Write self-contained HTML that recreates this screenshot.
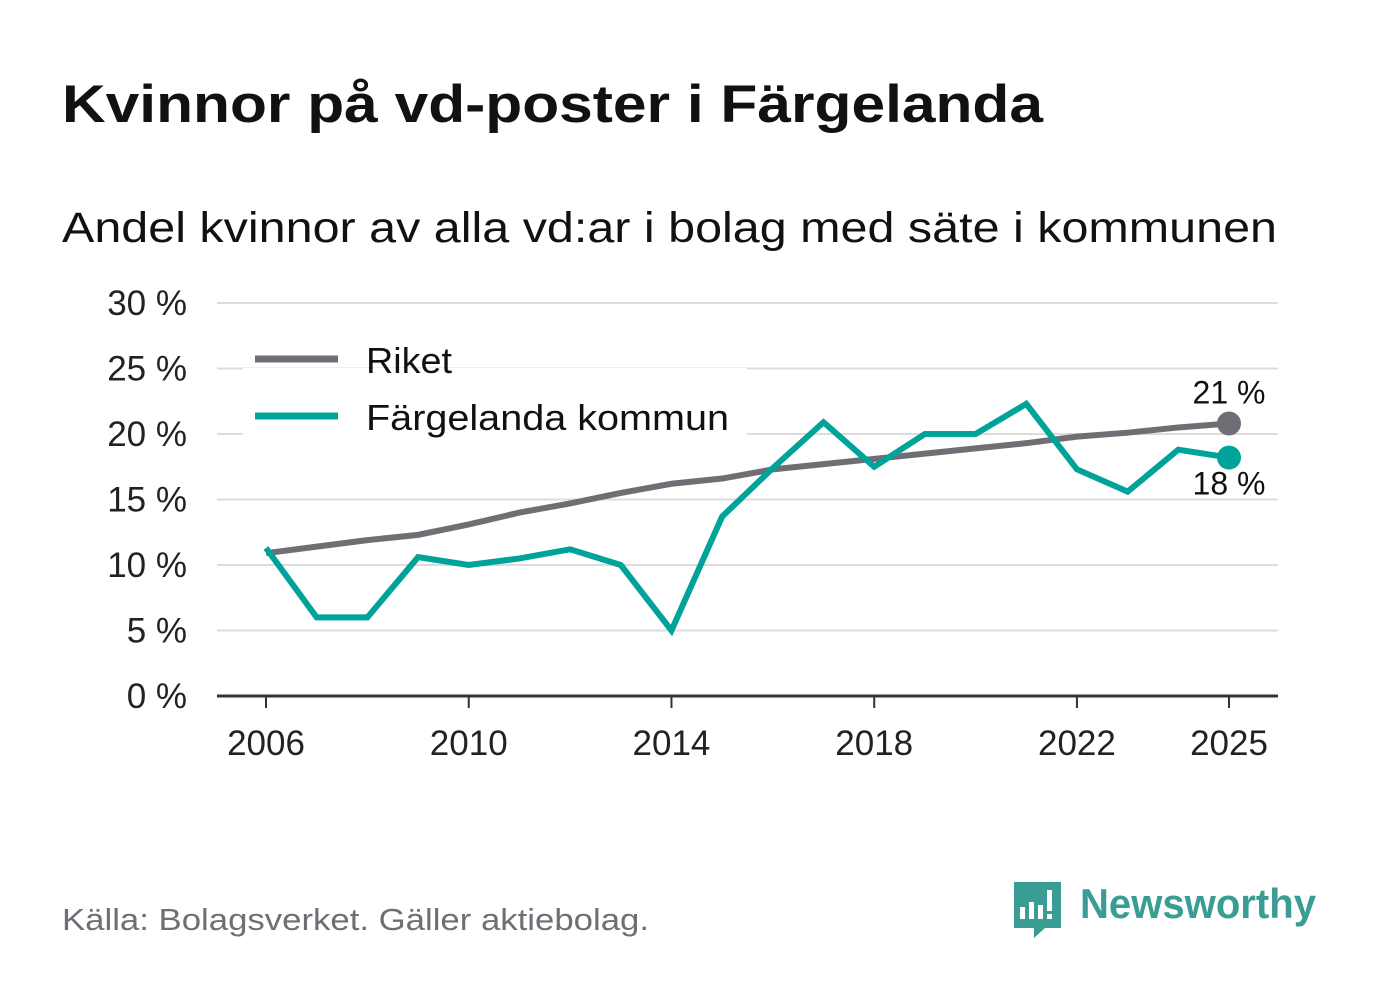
<!DOCTYPE html>
<html><head><meta charset="utf-8"><style>
body{margin:0;background:#fff;font-family:"Liberation Sans",sans-serif;}
svg text{font-family:"Liberation Sans",sans-serif;}
</style></head><body>
<svg width="1382" height="999" xmlns="http://www.w3.org/2000/svg">
<text x="62" y="122" font-size="53" font-weight="bold" fill="#111" textLength="981" lengthAdjust="spacingAndGlyphs">Kvinnor på vd-poster i Färgelanda</text>
<text x="62" y="242" font-size="43" fill="#111" textLength="1215" lengthAdjust="spacingAndGlyphs">Andel kvinnor av alla vd:ar i bolag med säte i kommunen</text>
<g id="grid"></g><g id="xaxis"></g>
<rect x="243" y="368" width="504" height="78" fill="#fff"/>
<line x1="255" y1="359" x2="338" y2="359" stroke="#6f6e74" stroke-width="7"/>
<text x="366" y="373" font-size="36" fill="#111" textLength="86" lengthAdjust="spacingAndGlyphs">Riket</text>
<line x1="255" y1="416" x2="338" y2="416" stroke="#00a39a" stroke-width="7"/>
<text x="366" y="430" font-size="36" fill="#111" textLength="363" lengthAdjust="spacingAndGlyphs">Färgelanda kommun</text>
<g id="series"></g>
<text x="62" y="930" font-size="31" fill="#6f6e74" textLength="587" lengthAdjust="spacingAndGlyphs">Källa: Bolagsverket. Gäller aktiebolag.</text>
<g>
<path d="M1014 882 h47 v46 h-16 l-11 10 v-10 h-20 z" fill="#3a9d93"/>
<rect x="1020" y="907" width="5" height="12" fill="#fff"/><rect x="1029" y="902" width="5" height="17" fill="#fff"/><rect x="1038" y="905" width="5" height="14" fill="#fff"/><rect x="1047" y="890" width="5" height="21" fill="#fff"/><rect x="1047" y="914" width="5" height="5" fill="#fff"/>
<text x="1080" y="918" font-size="42" font-weight="bold" fill="#3a9d93" textLength="236" lengthAdjust="spacingAndGlyphs">Newsworthy</text>
</g>
</svg>
<script>
const years=[2006,2007,2008,2009,2010,2011,2012,2013,2014,2015,2016,2017,2018,2019,2020,2021,2022,2023,2024,2025];
const riket=[10.9,11.4,11.9,12.3,13.1,14.0,14.7,15.5,16.2,16.6,17.3,17.7,18.1,18.5,18.9,19.3,19.8,20.1,20.5,20.8];
const fargelanda=[11.3,6.0,6.0,10.6,10.0,10.5,11.2,10.0,5.0,13.7,17.4,20.9,17.5,20.0,20.0,22.3,17.3,15.6,18.8,18.2];
const yTicks=[0,5,10,15,20,25,30];
const xTicks=[2006,2010,2014,2018,2022,2025];
const NS="http://www.w3.org/2000/svg";
const x=v=>266+(v-2006)*(1229-266)/19;
const y=v=>696-v*(696-303)/30;
function mk(t,a,p){const e=document.createElementNS(NS,t);for(const k in a)e.setAttribute(k,a[k]);p.appendChild(e);return e;}
const grid=document.getElementById('grid'),xa=document.getElementById('xaxis'),s=document.getElementById('series');
yTicks.forEach(t=>{
 if(t>0){const l=mk('line',{x1:217,x2:1278,y1:y(t),y2:y(t),stroke:'#dcdcdc','stroke-width':2},grid);
 
 }
 const tx=mk('text',{x:187,y:y(t)+12,'font-size':35,'text-anchor':'end',fill:'#222'},grid);tx.textContent=t+' %';
 
 
});
const ax=mk('line',{x1:217,x2:1278,y1:696,y2:696,stroke:'#333','stroke-width':3},xa);


xTicks.forEach(t=>{
 mk('line',{x1:x(t),x2:x(t),y1:696,y2:708,stroke:'#333','stroke-width':2},xa);
 const tx=mk('text',{x:x(t),y:755,'font-size':35,'text-anchor':'middle',fill:'#222'},xa);tx.textContent=t;
 
 
});
function line(vals,col,name){
 const p=mk('polyline',{points:vals.map((v,i)=>x(years[i])+','+y(v)).join(' '),fill:'none',stroke:col,'stroke-width':6,'stroke-linejoin':'miter'},s);
 
 
 const n=vals.length-1;
 const c=mk('circle',{cx:x(years[n]),cy:y(vals[n]),r:12,fill:col},s);
 
 
}
line(riket,'#6f6e74','riket-line');
line(fargelanda,'#00a39a','fargelanda-line');
const l1=mk('text',{x:1229,y:y(riket[19])-20,'font-size':32,'text-anchor':'middle',fill:'#111'},s);l1.textContent=Math.round(riket[19])+' %';


const l2=mk('text',{x:1229,y:y(fargelanda[19])+37,'font-size':32,'text-anchor':'middle',fill:'#111'},s);l2.textContent=Math.round(fargelanda[19])+' %';


</script>
</body></html>
